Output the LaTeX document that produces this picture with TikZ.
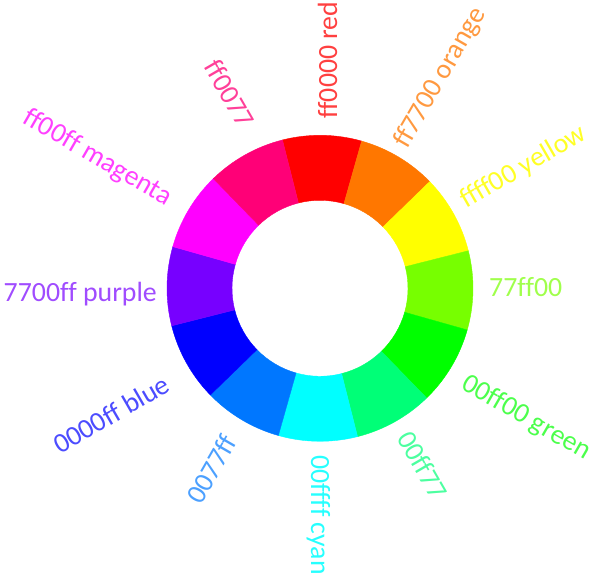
\documentclass[tikz,border=0pt]{standalone}
\usepackage{fontspec}
\setmainfont{Carlito}[Ligatures={NoCommon}]
\usetikzlibrary{calc}
\definecolor{cR}{HTML}{FF0000}
\definecolor{cO}{HTML}{FF7700}
\definecolor{cY}{HTML}{FFFF00}
\definecolor{cYG}{HTML}{77FF00}
\definecolor{cG}{HTML}{00FF00}
\definecolor{cGC}{HTML}{00FF77}
\definecolor{cC}{HTML}{00FFFF}
\definecolor{cCB}{HTML}{0077FF}
\definecolor{cB}{HTML}{0000FF}
\definecolor{cP}{HTML}{7700FF}
\definecolor{cM}{HTML}{FF00FF}
\definecolor{cMR}{HTML}{FF0077}
\tikzset{
  lbl/.style={inner sep=0pt, font=\fontsize{27.8}{33}\selectfont},
  lblR/.style={lbl, anchor=base west},
  lblL/.style={lbl, anchor=base east}
}
\begin{document}
\begin{tikzpicture}[x=1pt,y=1pt]
\useasboundingbox (0,0) rectangle (600,582);
\coordinate (C) at (320,293.7);
\foreach \a/\c in {90/cR,60/cO,30/cY,0/cYG,-30/cG,-60/cGC,-90/cC,-120/cCB,-150/cB,-180/cP,-210/cM,-240/cMR}{
  \filldraw[fill=\c, draw=\c, line width=0.4pt]
    ($(C)+(\a-15.8:153)$) arc[start angle=\a-15.8, end angle=\a+14.2, radius=153]
    -- ($(C)+(\a+14.2:88)$) arc[start angle=\a+14.2, end angle=\a-15.8, radius=88] -- cycle;
}
% right-side labels
\node[lblR, rotate=90,  text=cR!75!white]  (lR)  at (337,463)   {ff0000 red};
\node[lblR, rotate=60,  text=cO!75!white]  (lO)  at (407,432)   {ff7700 orange};
\node[lblR, rotate=30,  text=cY!85!white]  (lY)  at (466,373)   {ffff00 yellow};
\node[lblR, rotate=0,   text=cYG!70!white] (lYG) at (489,285.5) {77ff00};
\node[lblR, rotate=-30, text=cG!70!white]  (lG)  at (460,194)   {00ff00 green};
\node[lblR, rotate=-60, text=cGC!70!white] (lGC) at (396,144)   {00ff77};
\node[lblR, rotate=-90, text=cC!85!white]  (lC)  at (311,127)   {00ffff cyan};
% left-side labels
\node[lblL, rotate=60,  text=cCB!70!white] (lCB) at (238,140)   {0077ff};
\node[lblL, rotate=30,  text=cB!70!white]  (lB)  at (172,192)   {0000ff blue};
\node[lblL, rotate=0,   text=cP!70!white]  (lP)  at (157,280.5) {7700ff purple};
\node[lblL, rotate=-30, text=cM!75!white]  (lM)  at (166,376)   {ff00ff magenta};
\node[lblL, rotate=-60, text=cMR!75!white] (lMR) at (240,452)   {ff0077};
\end{tikzpicture}
\end{document}
